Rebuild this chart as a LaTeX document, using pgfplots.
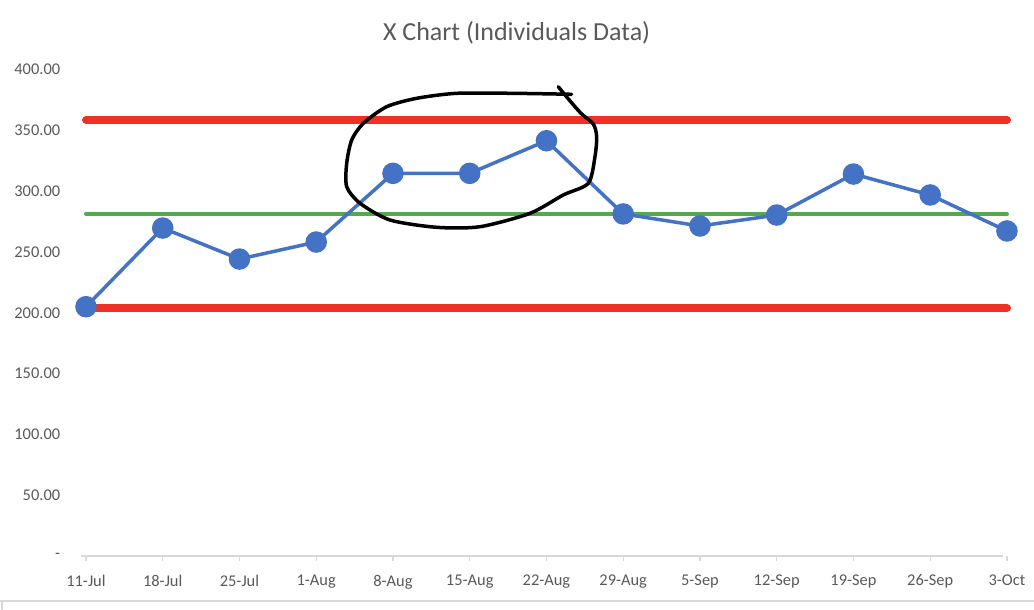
\documentclass[border=0pt]{standalone}
\usepackage{fontspec}
\setmainfont{Carlito}
\usepackage{pgfplots}
\pgfplotsset{compat=1.18}
\definecolor{cblue}{HTML}{4472C4}
\definecolor{cred}{HTML}{EE3124}
\definecolor{cgreen}{HTML}{55A84F}
\definecolor{cgray}{HTML}{595959}
\definecolor{cline}{HTML}{D9D9D9}
\begin{document}
\begin{tikzpicture}
\path[use as bounding box] (0,0) rectangle (517pt,305pt);
\draw[cline, line width=1pt] (0pt,4.5pt) -- (517pt,4.5pt);
\draw[cline, line width=1pt] (1pt,0pt) -- (1pt,4.5pt);
\node[text=cgray, font=\fontsize{13}{15}\selectfont] at (258.3pt,288.5pt) {X Chart (Individuals Data)};
\begin{axis}[
  at={(40.5pt,27pt)}, anchor=south west,
  scale only axis, width=464.9pt, height=243.2pt,
  xmin=-0.065, xmax=12.05, ymin=0, ymax=400,
  clip=false,
  axis line style={draw=none},
  xtick={0,...,12},
  xticklabels={11-Jul,18-Jul,25-Jul,1-Aug,8-Aug,15-Aug,22-Aug,29-Aug,5-Sep,12-Sep,19-Sep,26-Sep,3-Oct},
  ytick={0,50,...,400},
  yticklabels={-\hspace{3.3pt},50.00,100.00,150.00,200.00,250.00,300.00,350.00,400.00},
  tick align=outside, major tick length=2.4pt,
  xtick pos=bottom, ytick pos=left,
  xtick style={cline, line width=0.6pt},
  ytick style={draw=none},
  ticklabel style={font=\fontsize{8.2}{10}\selectfont, text=cgray},
  xticklabel style={yshift=-3.5pt},
  yticklabel style={xshift=-4.5pt},
]
\draw[cline, line width=0.6pt] (axis cs:-0.065,0) -- (axis cs:11.948,0);
\addplot[cgreen, line width=2pt, line cap=round] coordinates {(0,281.3) (12,281.3)};
\addplot[cblue, line width=1.75pt, mark=*, mark size=4.5pt, mark options={solid, fill=cblue, draw=cblue}] coordinates {
(0,205.0) (1,269.7) (2,244.2) (3,258.2) (4,314.7) (5,314.7) (6,341.5)
(7,281.3) (8,271.4) (9,280.4) (10,314.1) (11,296.9) (12,267.3)};
\addplot[cred, line width=4pt, line cap=round] coordinates {(0,358.6) (12,358.6)};
\addplot[cred, line width=4pt, line cap=round] coordinates {(0,204.0) (12,204.0)};
\addplot[black, line width=1.75pt, smooth, tension=0.45, line cap=round, line join=round] coordinates {
(6.154,385.9) (6.25,378.5) (6.45,364.0) (6.610,355.3) (6.654,344.8) (6.632,328.4) (6.545,306.5)
(6.219,296.9) (5.785,281.8) (5.134,270.8) (4.569,270.3) (3.961,276.3) (3.570,290.1)
(3.397,303.7) (3.397,322.9) (3.462,342.1) (3.613,355.8) (3.918,369.5) (4.309,376.4)
(4.830,380.5) (5.567,380.5) (6.328,379.7)};
\end{axis}
\end{tikzpicture}
\end{document}
